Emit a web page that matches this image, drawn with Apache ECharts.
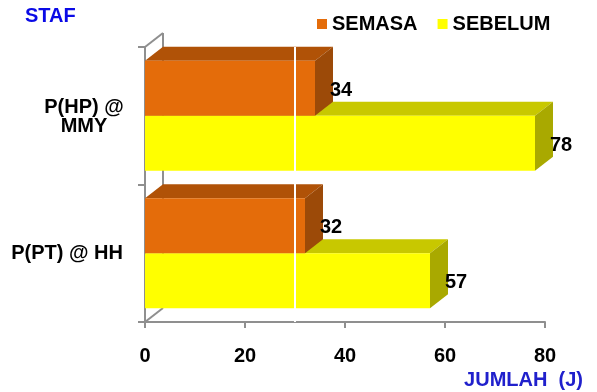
<!DOCTYPE html>
<html>
<head>
<meta charset="utf-8">
<script src="https://cdn.jsdelivr.net/npm/echarts@6/dist/echarts.min.js"></script>
<style>
  html, body { margin: 0; padding: 0; background: #fff; }
  #chart { width: 597px; height: 392px; }
</style>
</head>
<body>
<div id="chart"></div>
<script>
// Staff counts per unit, before (SEBELUM) and during (SEMASA)
const categories = ['P(HP) @\nMMY', 'P(PT) @ HH'];
const semasa = [34, 32];
const sebelum = [78, 57];
const xTicks = [0, 20, 40, 60, 80];
const seriesNames = ['SEMASA', 'SEBELUM'];
const markerAt = 30;

const FONT = 'Arial, "Liberation Sans", sans-serif';
const DEPTH_X = 18;
const DEPTH_Y = 14;

const palette = {
  SEMASA: { front: '#E46C0A', top: '#B05207', side: '#9C4A08' },
  SEBELUM: { front: '#FFFF00', top: '#C8C800', side: '#A9A900' }
};

// Draws one 3D box: front face, top face, right side face, plus value label.
function boxRenderer(name, slot) {
  const col = palette[name];
  return function (params, api) {
    const val = api.value(0);
    const cat = api.value(1);
    const band = api.size([0, 1])[1];
    const c = api.coord([val, cat]);
    const base = api.coord([0, cat]);
    const h = band * 0.4;
    const y0 = slot === 0 ? c[1] - h : c[1];
    const y1 = y0 + h;
    const x0 = base[0];
    const x1 = c[0];
    const dx = DEPTH_X, dy = DEPTH_Y;
    return {
      type: 'group',
      children: [
        {
          type: 'polygon',
          shape: { points: [[x0, y0], [x1, y0], [x1 + dx, y0 - dy], [x0 + dx, y0 - dy]] },
          style: { fill: col.top }
        },
        {
          type: 'polygon',
          shape: { points: [[x1, y0], [x1 + dx, y0 - dy], [x1 + dx, y1 - dy], [x1, y1]] },
          style: { fill: col.side }
        },
        {
          type: 'rect',
          shape: { x: x0, y: y0, width: x1 - x0, height: h },
          style: { fill: col.front }
        },
        {
          type: 'text',
          z2: 10,
          style: {
            text: String(val),
            x: x1 + 15,
            y: (y0 + y1) / 2 + 2,
            verticalAlign: 'middle',
            align: 'left',
            fill: '#000',
            font: 'bold 20px ' + FONT
          }
        }
      ]
    };
  };
}

// Back wall edges of the 3D frame, derived from the axes.
function frameRenderer(params, api) {
  const band = api.size([0, 1])[1];
  const first = api.coord([0, 0]);
  const last = api.coord([0, categories.length - 1]);
  const x0 = first[0];
  const yTop = first[1] - band / 2;
  const yBot = last[1] + band / 2;
  const st = { stroke: '#8f8f8f', lineWidth: 2, fill: null };
  return {
    type: 'group',
    children: [
      { type: 'line', shape: { x1: x0, y1: yTop, x2: x0 + DEPTH_X, y2: yTop - DEPTH_Y }, style: st },
      { type: 'line', shape: { x1: x0 + DEPTH_X, y1: yTop - DEPTH_Y, x2: x0 + DEPTH_X, y2: yBot - DEPTH_Y }, style: st },
      { type: 'line', shape: { x1: x0, y1: yBot, x2: x0 + DEPTH_X, y2: yBot - DEPTH_Y }, style: st }
    ]
  };
}

const chart = echarts.init(document.getElementById('chart'));

const labelWidth = 78;

chart.setOption({
  animation: false,
  color: [palette.SEMASA.front, palette.SEBELUM.front],
  title: [
    {
      text: 'STAF', left: 25, top: 6, padding: 0,
      textStyle: { color: '#0A0AE6', fontSize: 20, fontWeight: 'bold', fontFamily: FONT }
    },
    {
      text: 'JUMLAH  (J)', right: 14, top: 370, padding: 0,
      textStyle: { color: '#2020CC', fontSize: 20, fontWeight: 'bold', fontFamily: FONT }
    }
  ],
  legend: {
    data: seriesNames,
    left: 317,
    top: 14,
    padding: 0,
    itemWidth: 10,
    itemHeight: 10,
    itemGap: 20,
    icon: 'rect',
    textStyle: { color: '#000', fontSize: 20, fontWeight: 'bold', fontFamily: FONT }
  },
  grid: { left: 145, right: 52, top: 47, bottom: 70, containLabel: false },
  xAxis: {
    type: 'value',
    min: xTicks[0],
    max: xTicks[xTicks.length - 1],
    interval: xTicks[1] - xTicks[0],
    axisLine: { show: true, lineStyle: { color: '#8f8f8f', width: 2 } },
    axisTick: { show: true, length: 6, lineStyle: { color: '#8f8f8f', width: 2 } },
    splitLine: { show: false },
    axisLabel: { margin: 24, color: '#000', fontSize: 20, fontWeight: 'bold', fontFamily: FONT }
  },
  yAxis: {
    type: 'category',
    inverse: true,
    data: categories,
    axisLine: { show: true, lineStyle: { color: '#8f8f8f', width: 2 } },
    axisTick: { show: true, length: 7, alignWithLabel: false, lineStyle: { color: '#8f8f8f', width: 2 } },
    axisLabel: {
      margin: 22,
      color: '#000',
      fontSize: 20,
      fontWeight: 'bold',
      fontFamily: FONT,
      lineHeight: 22,
      formatter: function (v) {
        const lines = v.split('\n');
        if (lines.length === 1) return '{a|' + v + '}';
        return lines.map(function (l, i) { return (i === 0 ? '{c1|' : '{c|') + l + '}'; }).join('\n');
      },
      rich: {
        a: { fontSize: 20, fontWeight: 'bold', fontFamily: FONT, color: '#000', lineHeight: 22 },
        c1: { fontSize: 20, fontWeight: 'bold', fontFamily: FONT, color: '#000', lineHeight: 22, width: labelWidth, align: 'center', padding: [6, 0, 0, 0] },
        c: { fontSize: 20, fontWeight: 'bold', fontFamily: FONT, color: '#000', lineHeight: 22, width: labelWidth, align: 'center' }
      }
    }
  },
  series: [
    {
      name: 'frame',
      type: 'custom',
      z: 1,
      silent: true,
      renderItem: frameRenderer,
      encode: { x: 0, y: 1 },
      data: [[0, 0]]
    },
    {
      name: seriesNames[1],
      type: 'custom',
      z: 2,
      itemStyle: { color: palette.SEBELUM.front },
      renderItem: boxRenderer('SEBELUM', 1),
      encode: { x: 0, y: 1 },
      data: sebelum.map(function (v, i) { return [v, i]; })
    },
    {
      name: seriesNames[0],
      type: 'custom',
      z: 3,
      itemStyle: { color: palette.SEMASA.front },
      renderItem: boxRenderer('SEMASA', 0),
      encode: { x: 0, y: 1 },
      data: semasa.map(function (v, i) { return [v, i]; })
    },
    {
      name: 'marker',
      type: 'line',
      z: 10,
      data: [],
      markLine: {
        silent: true,
        symbol: 'none',
        label: { show: false },
        lineStyle: { color: '#ffffff', width: 2, type: 'solid' },
        data: [{ xAxis: markerAt }]
      }
    }
  ]
});
</script>
</body>
</html>
